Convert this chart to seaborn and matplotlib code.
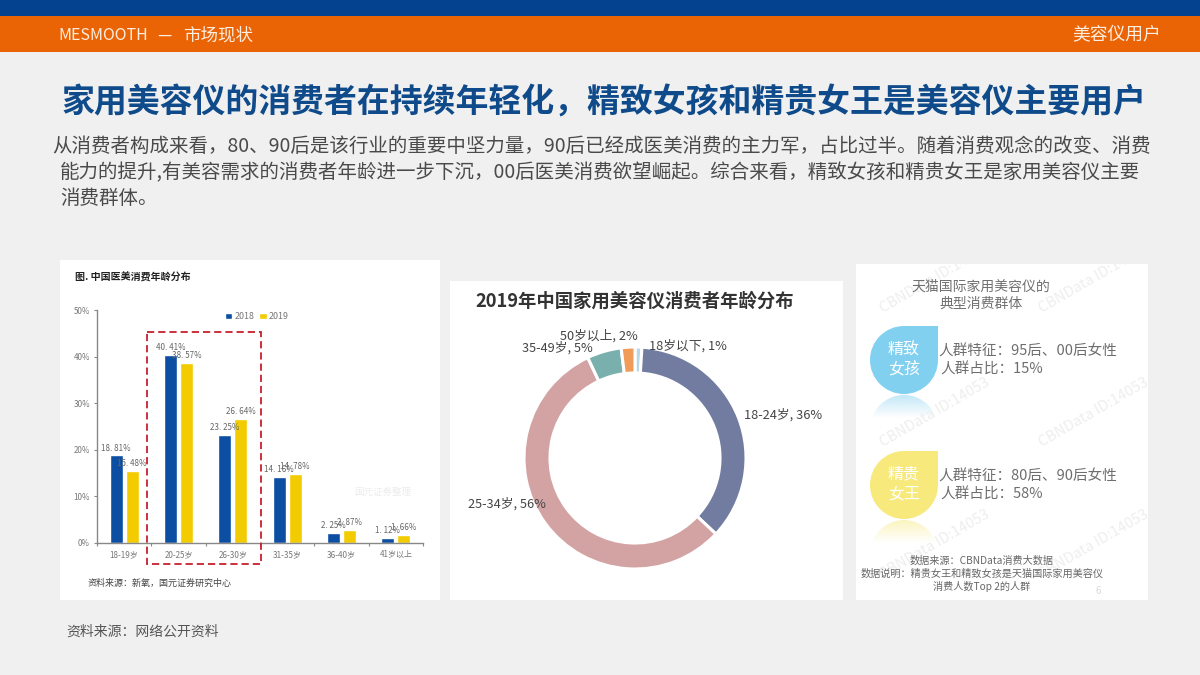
import numpy as np
import pandas as pd
import matplotlib
matplotlib.use('Agg')
import matplotlib.pyplot as plt
from matplotlib.patches import Rectangle, Circle
import seaborn as sns

# bar chart values
age_groups = ['18-19岁', '20-25岁', '26-30岁', '31-35岁', '36-40岁', '41岁以上']
share_2018 = [18.81, 40.41, 23.25, 14.16, 2.25, 1.12]
share_2019 = [15.48, 38.57, 26.64, 14.78, 2.87, 1.66]
bar_ticks = [0, 10, 20, 30, 40, 50]

# donut values, clockwise from the top
donut_ages = ['18岁以下', '18-24岁', '25-34岁', '35-49岁', '50岁以上']
donut_share = [1, 36, 56, 5, 2]
donut_colors = ['#b9d7e6', '#717ca0', '#d3a3a3', '#79b0ae', '#f09c58']

title = '家用美容仪的消费者在持续年轻化，精致女孩和精贵女王是美容仪主要用户'
body_lines = [
    '从消费者构成来看，80、90后是该行业的重要中坚力量，90后已经成医美消费的主力军，占比过半。随着消费观念的改变、消费',
    '能力的提升,有美容需求的消费者年龄进一步下沉，00后医美消费欲望崛起。综合来看，精致女孩和精贵女王是家用美容仪主要',
    '消费群体。',
]

sns.set_theme(style='white')
plt.rcParams['font.family'] = ['Noto Sans CJK SC', 'DejaVu Sans']
plt.rcParams['axes.unicode_minus'] = False

W, H = 1200, 675
fig = plt.figure(figsize=(12, 6.75), dpi=100, facecolor='#f0f0f0')


def pixel_axes(zorder):
    ax = fig.add_axes([0, 0, 1, 1], zorder=zorder)
    ax.set_xlim(0, W)
    ax.set_ylim(H, 0)
    ax.axis('off')
    ax.patch.set_alpha(0)
    return ax


def box_axes(x0, y0, x1, y1):
    return fig.add_axes([x0 / W, 1 - y1 / H, (x1 - x0) / W, (y1 - y0) / H], zorder=2)


back = pixel_axes(0)
front = pixel_axes(5)


def label(ax, x, y, s, size, color='#444444', ha='left', **kw):
    return ax.text(x, y, s, fontsize=size, color=color, ha=ha, va='center', **kw)


# header bands and text
back.add_patch(Rectangle((0, 0), W, 16, color='#044290', lw=0))
back.add_patch(Rectangle((0, 16), W, 36, color='#ea6406', lw=0))
label(back, 58, 35, 'MESMOOTH', 11.5, '#fdeee0')
label(back, 157, 35, '—', 11.5, '#fdeee0')
label(back, 183, 35, '市场现状', 12.6, '#fdeee0')
label(back, 1161, 34, '美容仪用户', 12.8, '#fdeee0', ha='right')
label(back, 603.5, 103, title, 23.7, '#0f4a8a', ha='center', fontweight='bold')
label(back, 52, 146, body_lines[0], 14, '#4a4a4a')
label(back, 60, 172.5, body_lines[1], 14, '#4a4a4a')
label(back, 60, 198.5, body_lines[2], 14, '#4a4a4a')
label(back, 66, 632, '资料来源：网络公开资料', 10, '#555555')

# white panels
back.add_patch(Rectangle((60, 260), 380, 340, color='white', lw=0))
back.add_patch(Rectangle((450, 281), 393, 319, color='white', lw=0))
right_panel = Rectangle((856, 264), 292, 336, color='white', lw=0)
back.add_patch(right_panel)

# left panel: grouped bars
df = pd.DataFrame({
    'age': age_groups * 2,
    'year': ['2018'] * len(age_groups) + ['2019'] * len(age_groups),
    'share': share_2018 + share_2019,
})
ax_bar = box_axes(97, 310, 423, 543)
ax_bar.patch.set_alpha(0)
sns.barplot(data=df, x='age', y='share', hue='year', ax=ax_bar, width=0.59, gap=0.17,
            palette=['#0b4ea2', '#f2cc00'], saturation=1, legend=True)
ax_bar.set_xlim(-0.5, 5.5)
ax_bar.set_ylim(0, 50)
ax_bar.set_xlabel('')
ax_bar.set_ylabel('')
ax_bar.set_yticks(bar_ticks)
ax_bar.set_yticklabels([f'{t}%' for t in bar_ticks])
ax_bar.tick_params(axis='both', labelsize=5.8, labelcolor='#777777', length=2, width=0.8,
                   color='#888888', pad=3, left=True, bottom=True)
ax_bar.set_xticks(np.arange(-0.5, 6, 1), minor=True)
ax_bar.tick_params(axis='x', which='major', bottom=False, pad=3)
ax_bar.tick_params(axis='x', which='minor', bottom=True, length=2, width=0.8, color='#888888')
sns.despine(ax=ax_bar)
for side in ['left', 'bottom']:
    ax_bar.spines[side].set_color('#888888')
    ax_bar.spines[side].set_linewidth(1)
for cont in ax_bar.containers:
    texts = [f'{b.get_height():.2f}%'.replace('.', '. ') for b in cont]
    ax_bar.bar_label(cont, labels=texts, fontsize=5.8, color='#666666', padding=2)
ax_bar.legend(loc='upper center', bbox_to_anchor=(0.49, 1.02), ncol=2, frameon=False,
              fontsize=6.4, handlelength=0.8, handleheight=0.8, handletextpad=0.2,
              columnspacing=0.6, labelcolor='#777777', borderpad=0.25)

label(back, 75, 277, '图. 中国医美消费年龄分布', 7.2, '#222222', fontweight='bold')
label(back, 88, 583, '资料来源：新氧，国元证券研究中心', 6.5, '#444444', fontweight='medium')
label(back, 383, 492, '国元证券整理', 6.8, '#ececec', ha='center')
front.add_patch(Rectangle((147, 332), 114, 232, fill=False, ec='#c8202f', lw=1.3, ls=(0, (4, 2.2))))

# middle panel: donut
ax_pie = box_axes(524, 347, 746, 569)
ax_pie.pie(donut_share, colors=donut_colors, startangle=90, counterclock=False,
           radius=1, wedgeprops={'width': 0.234, 'edgecolor': 'white', 'linewidth': 2.2})
ax_pie.set_xlim(-1, 1)
ax_pie.set_ylim(-1, 1)
ax_pie.patch.set_alpha(0)

label(back, 635, 301, '2019年中国家用美容仪消费者年龄分布', 13.2, '#333333', ha='center', fontweight='bold')
donut_label_pos = [(688, 346), (783, 415), (507, 504), (557, 348), (599, 336)]
for (x, y), age, v in zip(donut_label_pos, donut_ages, donut_share):
    label(front, x, y, f'{age}, {v}%', 9.2, '#444444', ha='center')

# right panel: watermarks first so they sit under the drops
for wx in [935, 1094]:
    for wy in [279, 413, 545]:
        t = label(back, wx, wy, 'CBNData ID:14053', 10.5, '#eeeeee', ha='center',
                  rotation=30, rotation_mode='anchor', clip_on=True)
        t.set_clip_path(right_panel)

label(back, 981, 287, '天猫国际家用美容仪的', 10, '#707070', ha='center')
label(back, 981, 304, '典型消费群体', 10, '#707070', ha='center')


def drop(cy, color, word1, word2, line1, line2):
    cx, r = 904, 34
    back.add_patch(Circle((cx, cy), r, color=color, lw=0))
    back.add_patch(Rectangle((cx, cy - r), r, r, color=color, lw=0))
    # faded reflection under the drop
    top = cy + r
    rgba = np.ones((40, 2, 4))
    rgba[..., :3] = matplotlib.colors.to_rgb(color)
    rgba[..., 3] = np.linspace(0.5, 0, 40)[:, None]
    im = back.imshow(rgba, extent=(cx - r, cx + r, top + 24, top), aspect='auto', zorder=1)
    clip = Circle((cx, top + r + 1), r, transform=back.transData)
    im.set_clip_path(clip)
    label(back, cx, cy - 11, word1, 11.5, 'white', ha='center')
    label(back, cx, cy + 9, word2, 11.5, 'white', ha='center')
    label(back, 938, cy - 8, line1, 10.5, '#6e6e6e')
    label(back, 940, cy + 10, line2, 10.5, '#6e6e6e')


drop(360, '#82d0f0', '精致', '女孩', '人群特征：95后、00后女性', '人群占比：15%')
drop(485, '#f7e97c', '精贵', '女王', '人群特征：80后、90后女性', '人群占比：58%')
back.set_xlim(0, W)
back.set_ylim(H, 0)

label(back, 982, 561, '数据来源：CBNData消费大数据', 7.3, '#666666', ha='center')
label(back, 982, 574, '数据说明：精贵女王和精致女孩是天猫国际家用美容仪', 7.3, '#666666', ha='center')
label(back, 982, 587, '消费人数Top 2的人群', 7.3, '#666666', ha='center')
label(back, 1098, 591, '6', 7, '#d8d8d8', ha='center')

fig.savefig('out.png', dpi=100, facecolor=fig.get_facecolor())
